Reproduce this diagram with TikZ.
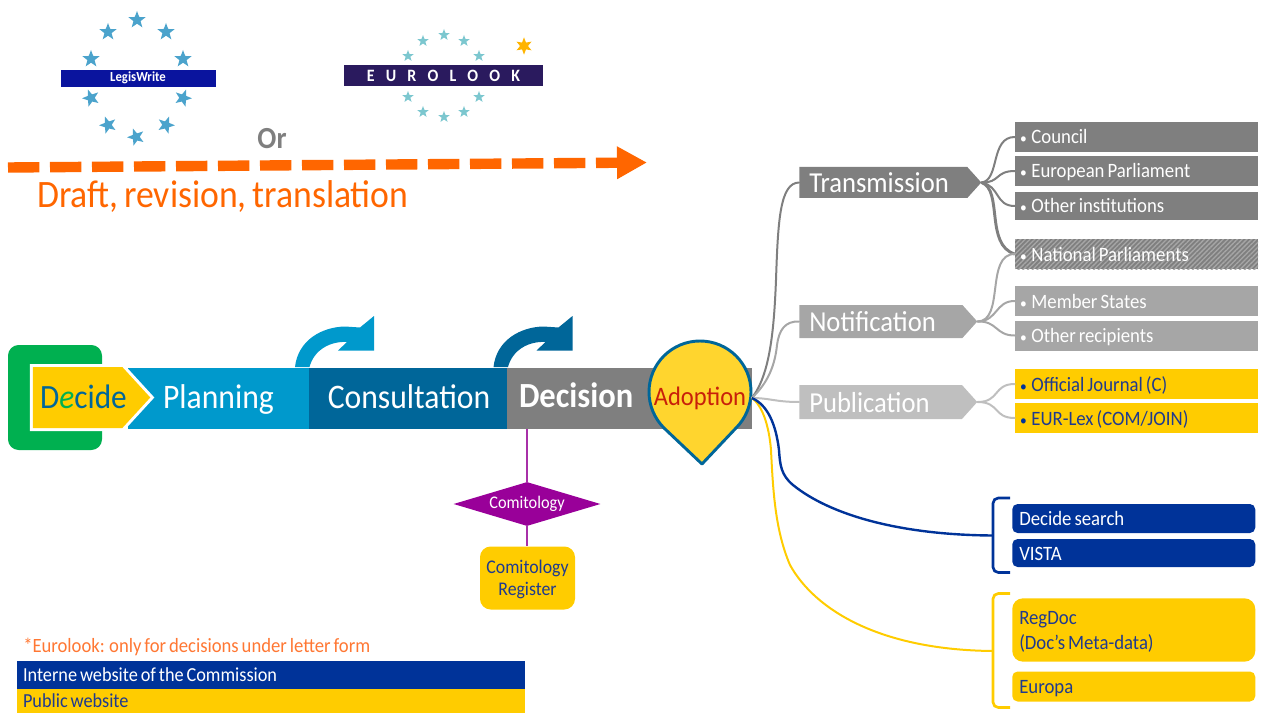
\documentclass[tikz,border=0pt]{standalone}
\usepackage{fontspec}
\setmainfont[FakeStretch=0.92,WordSpace=0.7]{Carlito}
\usetikzlibrary{shapes.geometric,shapes.symbols,arrows.meta,patterns.meta}
\definecolor{cyellow}{HTML}{FFCC00}
\definecolor{cpin}{HTML}{FFD52E}
\definecolor{corange}{HTML}{FF6600}
\definecolor{cnote}{HTML}{FF7733}
\definecolor{cast}{HTML}{FFB400}
\definecolor{cplan}{HTML}{0099CC}
\definecolor{ccons}{HTML}{006699}
\definecolor{cgrey}{HTML}{7F7F7F}
\definecolor{cgreyb}{HTML}{A6A6A6}
\definecolor{cgreyc}{HTML}{BFBFBF}
\definecolor{cblue}{HTML}{003399}
\definecolor{ctext}{HTML}{1F3A8F}
\definecolor{cpurple}{HTML}{990099}
\definecolor{clinkp}{HTML}{A830A8}
\definecolor{cstarA}{HTML}{4BA3CC}
\definecolor{cstarB}{HTML}{7CC7CF}
\definecolor{clegis}{HTML}{0A149E}
\definecolor{ceuro}{HTML}{2A1A5E}
\definecolor{cgreen}{HTML}{00B050}
\definecolor{cadopt}{HTML}{C8200A}
\newcommand{\fpx}[1]{\fontsize{#1}{#1}\selectfont}
\newcommand{\bul}{{\fontsize{11}{11}\selectfont •}\hspace{3.5pt}}
\newcommand{\bentpath}{(295,367) .. controls (298,340) and (322,327) .. (345,326.5) -- (360,327.5) -- (374,316) -- (374,350.5) -- (338,350.5) -- (347,342) .. controls (330,341) and (314,350) .. (309.5,367) -- cycle}
\tikzset{
  wh/.style 2 args={minimum width=#1*0.75pt,minimum height=#2*0.75pt},
  barseg/.style={rectangle,inner sep=0pt,text=white,font=\fpx{25.8},text height=16pt,text depth=0pt},
  pent/.style={signal,signal to=east,signal from=nowhere,inner sep=0pt,signal pointer angle=96,anchor=west},
  penttext/.style={text=white,font=\fpx{21.7},inner sep=0pt,anchor=west},
  item/.style={rectangle,inner xsep=3.75pt,inner ysep=0pt,text width=174.75pt,minimum width=182.25pt,minimum height=22.5pt,align=flush left,text=white,font=\fpx{15.3},text height=12pt,text depth=1.5pt},
  toolbox/.style={rectangle,rounded corners=4pt,inner xsep=5.25pt,inner ysep=0pt,text width=171.75pt,minimum width=182.25pt,align=flush left,font=\fpx{15.3}},
  toolline/.style={text height=12pt,text depth=1.5pt},
  branch/.style={line width=1.5pt,line cap=round},
  connlink/.style={color=clinkp,line width=1pt},
  brace/.style={line width=2pt,rounded corners=4pt},
  staricon/.style={star,star points=5,star point ratio=2.4,inner sep=0pt,draw=none},
  legendbar/.style={rectangle,inner xsep=4.5pt,inner ysep=0pt,text width=372pt,minimum width=381pt,align=flush left,font=\fpx{14.9}},
}
\begin{document}
\begin{tikzpicture}[x=0.75pt,y=-0.75pt]
\useasboundingbox (0,0) rectangle (1267,713);
% logos
\foreach \i/\a/\b/\r in {1/137/20/0,2/108/32/0,3/166/32/0,4/91/59/0,5/183/59/0,6/91/98/20,7/183/98/-20,8/108/125/20,9/166/125/-20,10/136/137/20}
  \node[staricon,fill=cstarA,minimum size=13.5pt,shape border rotate=\r] (ls\i) at (\a,\b) {};
\node[rectangle,fill=clegis,draw=white,line width=.3pt,wh={156}{18},inner sep=0pt,text=white,font=\bfseries\fpx{10.4}] (legis) at (138,78) {LegisWrite};
\foreach \i/\a/\b in {1/444/35,2/423/41,3/464/41,4/408/56,5/479/56,6/408/97,7/479/97,8/423/112,9/464/112,10/444/117}
  \node[staricon,fill=cstarB,minimum size=9pt] (es\i) at (\a,\b) {};
\node[rectangle,fill=ceuro,wh={199}{21},inner sep=0pt,text=white,font=\bfseries\fpx{13}] (eurolook) at (443.5,75.5) {E\,\,\, U\,\,\, R\,\,\, O\,\,\, L\,\,\, O\,\,\, O\,\,\, K};
\node[star,star points=6,star point ratio=2.2,fill=cast,inner sep=0pt,minimum size=13pt] (ast) at (524,46) {};
\node[text=cgrey,font=\bfseries\fpx{23},inner sep=0pt] (orlabel) at (272,139) {Or};
% dashed arrow
\coordinate (das) at (8,167.5);
\coordinate (dae) at (647,162.5);
\draw[corange,line width=7.8pt,dash pattern=on 23.5pt off 8pt,-{Triangle[length=22.5pt,width=23pt]}] (das) -- (dae);
\node[text=corange,font=\fpx{29.1},inner sep=0pt,anchor=west] (draft) at (37,197) {Draft, revision, translation};
% main bar
\node[rectangle,rounded corners=8pt,fill=cgreen,wh={94}{105}] (greenc) at (55,397.5) {};
\node[barseg,fill=cplan,wh={183}{61}] (planning) at (219.5,398) {\hspace{-1.5pt}Planning};
\node[barseg,fill=ccons,wh={200}{61}] (consult) at (409,398) {Consultation};
\node[barseg,fill=cgrey,wh={245}{61},align=flush left,text width=165.75pt,inner xsep=9pt,font=\bfseries\fpx{26.5},text height=14pt] (decision) at (629.5,398) {Decision};
\fill[cplan] \bentpath;
\begin{scope}[shift={(198.5,0)}]
\fill[ccons] \bentpath;
\end{scope}
\node[pent,signal pointer angle=95,fill=cyellow,wh={117.5}{61},preaction={draw=white,line width=4.5pt}] (decideshape) at (32.5,397.5) {};
\node[inner sep=0pt,font=\fpx{25.5}] (decide) at (83.5,397) {\textcolor{ccons}{D}\textcolor{cgreen}{\itshape e}\textcolor{ccons}{cide}};
% adoption pin
\filldraw[fill=cpin,draw=ccons,line width=2.2pt,line join=round] (702,464) -- (664,428) .. controls (654.5,418.5) and (649,405.5) .. (649,392) .. controls (649,363.8) and (671.8,341) .. (700,341) .. controls (728.2,341) and (751,363.8) .. (751,392) .. controls (751,405.5) and (745.5,418.5) .. (736,428) -- cycle;
\node[rectangle,inner sep=0pt,wh={103}{40},text=cadopt,font=\fpx{20}] (adopt) at (700,398) {Adoption};
% comitology
\node[diamond,aspect=3.4,fill=cpurple,inner sep=0pt,wh={147}{44},text=white,font=\fpx{13.3}] (comit) at (527,504) {Comitology};
\node[rectangle,rounded corners=8pt,fill=cyellow,wh={95}{63},inner sep=0pt,align=center,text=ctext,font=\fpx{14.5}] (register) at (527.5,578) {\rule{0pt}{12.5pt}Comitology\\[2pt]Register};
\draw[connlink] (comit.north |- decision.south) -- (comit.north);
\draw[connlink] (comit.south) -- (comit.south |- register.north);
% transmission etc.
\node[pent,fill=cgrey,wh={182}{31}] (transmission) at (799,182.5) {};
\node[pent,fill=cgreyb,wh={178}{33}] (notification) at (799,321.5) {};
\node[pent,fill=cgreyc,wh={178}{34}] (publication) at (799,402) {};
\node[penttext] (ttrans) at (809,183) {Transmission};
\node[penttext] (tnotif) at (809,322) {Notification};
\node[penttext] (tpubl) at (809,403) {Publication};
% items
\node[item,fill=cgrey] (council) at (1136.5,137) {\bul Council};
\node[item,fill=cgrey] (ep) at (1136.5,171) {\bul European Parliament};
\node[item,fill=cgrey,minimum height=21.5pt] (oi) at (1136.5,206) {\bul Other institutions};
\node[item,fill=cgrey,postaction={pattern={Lines[angle=45,distance=2.5pt,line width=1pt]},pattern color=cgreyb}] (np) at (1136.5,254) {\bul National Parliaments};
\node[item,fill=cgreyb] (ms) at (1136.5,301) {\bul Member States};
\node[item,fill=cgreyb] (or) at (1136.5,335.5) {\bul Other recipients};
\node[item,fill=cyellow,text=ctext] (oj) at (1136.5,384) {\textcolor{cblue}{\bul}Official Journal (C)};
\node[item,fill=cyellow,text=ctext] (eurlex) at (1136.5,418) {\textcolor{cblue}{\bul}EUR-Lex (COM/JOIN)};
% tools
\node[toolbox,toolline,fill=cblue,text=white,minimum height=21.75pt] (dsearch) at (1133.75,518.5) {Decide search};
\node[toolbox,toolline,fill=cblue,text=white,minimum height=21pt] (vista) at (1133.75,553) {VISTA};
\node[toolbox,fill=cyellow,text=ctext,rounded corners=8pt,minimum height=47.5pt] (regdoc) at (1133.75,630) {\rule{0pt}{12.5pt}RegDoc\\[4pt](Doc's Meta-data)};
\node[toolbox,toolline,fill=cyellow,text=ctext,minimum height=22.5pt] (europa) at (1133.75,686.5) {Europa};
% braces
\coordinate (bluetick) at (993,535.5);
\coordinate (yeltick) at (993,651);
\draw[brace,cblue] (1010,498) -- (993,498) -- (993,572.5) -- (1010,572.5);
\draw[brace,cyellow] (1010,593.5) -- (993,593.5) -- (993,707.5) -- (1010,707.5);
% curves from adoption
\draw[branch,cgrey] (adopt.east) .. controls (770,375) and (774,330) .. (776,280) .. controls (778,220) and (780,183) .. (transmission.west);
\draw[branch,cgreyb] (adopt.east) .. controls (768,383) and (775,365) .. (777,345) .. controls (779,330) and (785,321) .. (notification.west);
\draw[branch,cgreyc] (adopt.east) .. controls (770,398) and (775,402) .. (publication.west);
\draw[line width=1.5pt,cyellow] (adopt.east) .. controls (762,405) and (769,425) .. (771,450) .. controls (773,490) and (775,530) .. (790,565) .. controls (815,610) and (880,650) .. (yeltick);
\draw[line width=1.8pt,cblue] (adopt.east) .. controls (768,405) and (776,425) .. (779,450) .. controls (780,465) and (781,475) .. (793,485) .. controls (830,515) and (900,535) .. (bluetick);
% tree branches
\draw[branch,cgrey] (transmission.east) .. controls (1000,180) and (990,137) .. (council.west);
\draw[branch,cgrey] (transmission.east) .. controls (1000,183) and (995,171) .. (ep.west);
\draw[branch,cgrey] (transmission.east) .. controls (1000,186) and (995,206) .. (oi.west);
\draw[line width=2.2pt,cgrey] (transmission.east) .. controls (1003,190) and (985,245) .. (np.west);
\draw[branch,cgreyb] (notification.east) .. controls (1005,321) and (985,254) .. (np.west);
\draw[branch,cgreyb] (notification.east) .. controls (998,321) and (995,301) .. (ms.west);
\draw[branch,cgreyb] (notification.east) .. controls (998,321) and (995,335.5) .. (or.west);
\draw[branch,cgreyc] (publication.east) .. controls (1000,402) and (993,384) .. (oj.west);
\draw[branch,cgreyc] (publication.east) .. controls (1000,402) and (993,418) .. (eurlex.west);
% legend
\node[text=cnote,font=\fpx{15.2},inner sep=0pt,anchor=west] (note) at (23,647) {*Eurolook: only for decisions under letter form};
\node[legendbar,fill=cblue,text=white,minimum height=21pt] (legendA) at (271,675) {Interne website of the Commission};
\node[legendbar,fill=cyellow,text=ctext,minimum height=18pt] (legendB) at (271,701) {Public website};
\end{tikzpicture}
\end{document}
